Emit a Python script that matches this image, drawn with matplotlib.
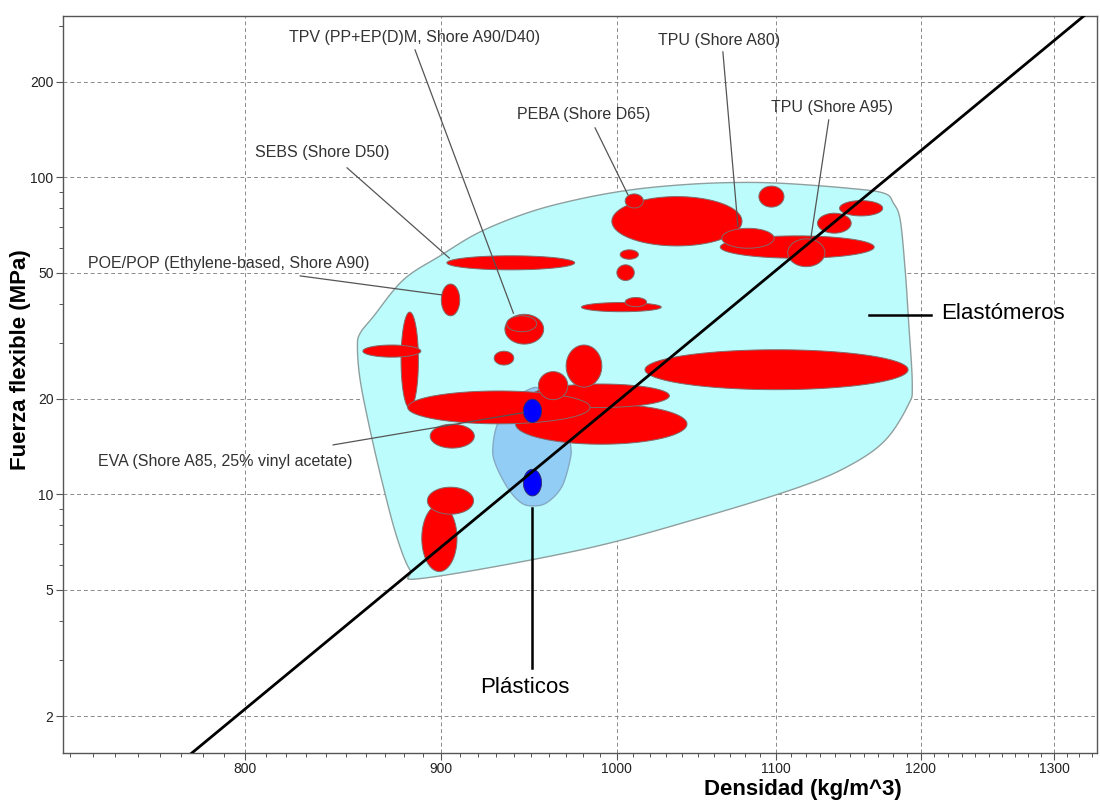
import numpy as np
import matplotlib
matplotlib.use("Agg")
import matplotlib.pyplot as plt
from matplotlib.ticker import FixedLocator, FixedFormatter, NullFormatter

plt.rcParams['font.family'] = ['Liberation Sans', 'DejaVu Sans']

# ---------------- data ----------------
# Red bubbles (elastomers): density range (kg/m^3) and flexural strength range (MPa), in drawing order
red_dens_lo = [889.5, 892.5, 894.0, 878.5, 858.6, 900.0, 935.0, 936.0, 929.0, 903.0,
               941.0, 950.0, 882.0, 954.0, 970.0, 1017.0, 997.0, 1005.0, 1002.0, 1000.0,
               979.0, 1005.0, 1064.0, 1065.0, 1108.0, 1089.0, 1128.0, 1143.0]
red_dens_hi = [908.5, 917.6, 918.0, 887.7, 889.0, 910.0, 957.0, 953.0, 940.0, 975.0,
               1043.0, 1032.0, 984.0, 971.0, 991.0, 1191.0, 1078.0, 1016.0, 1013.0, 1010.5,
               1027.0, 1018.0, 1167.0, 1099.0, 1133.0, 1105.5, 1151.0, 1173.0]
red_str_lo = [5.71, 8.66, 14.0, 18.7, 27.1, 36.6, 29.8, 32.6, 25.6, 51.1,
              14.4, 18.8, 16.7, 19.9, 21.8, 21.4, 60.8, 80.1, 55.2, 47.3,
              37.7, 39.1, 55.6, 59.8, 52.3, 80.6, 66.7, 75.6]
red_str_hi = [9.27, 10.54, 16.65, 37.6, 29.6, 46.1, 37.0, 36.6, 28.3, 56.6,
              19.3, 22.3, 21.2, 24.4, 29.6, 28.6, 87.0, 88.7, 59.1, 53.0,
              40.3, 41.8, 65.4, 69.1, 64.0, 93.9, 77.1, 84.5]

# Blue bubbles (plastics)
blue_dens_lo = [945.4, 945.4]
blue_dens_hi = [955.8, 955.8]
blue_str_lo = [16.85, 9.89]
blue_str_hi = [19.97, 12.0]

# Envelopes
elast_dens = [855.8, 857.2, 864.0, 879.7, 899.3, 921.2, 949.3, 978.2, 1008.1, 1038.8,
              1070.0, 1102.6, 1148.4, 1173.8, 1180.6, 1185.4, 1188.9, 1191.3, 1194.0, 1191.1,
              1175.0, 1150.6, 1116.0, 1051.1, 978.2, 890.4, 883.2, 876.2, 869.2, 862.3, 857.2]
elast_str = [29.26, 32.25, 36.38, 47.52, 56.56, 67.33, 77.84, 85.56, 91.3, 94.7,
             96.3, 95.9, 92.5, 89.2, 82.9, 73.4, 51.1, 35.5, 22.15, 19.16,
             14.86, 12.39, 10.56, 8.43, 6.68, 5.44, 5.78, 7.36, 10.58, 15.98, 22.97]
plast_dens = [950.3, 939.6, 931.1, 928.3, 929.5, 936.2, 943.5, 950.3, 958.8, 967.5,
              972.3, 972.7, 970.4, 962.4, 955.0]
plast_str = [21.63, 19.87, 16.81, 14.12, 12.57, 10.56, 9.47, 9.20, 9.42, 10.58,
             12.85, 14.15, 16.37, 19.44, 21.37]

# Selection guideline
line_dens = [770.0, 1330.0]
line_str = [1.436, 339.3]

# Annotations
ann_text = ["TPV (PP+EP(D)M, Shore A90/D40)", "TPU (Shore A80)", "PEBA (Shore D65)",
            "TPU (Shore A95)", "SEBS (Shore D50)", "POE/POP (Ethylene-based, Shore A90)",
            "EVA (Shore A85, 25% vinyl acetate)"]
ann_x = [885.9, 1063.0, 980.0, 1137.7, 837.8, 792.3, 790.5]
ann_y = [275.5, 269.5, 157.4, 165.6, 119.5, 53.35, 12.66]
lead_x0 = [885.9, 1065.7, 987.0, 1135.6, 850.5, 826.9, 843.4]
lead_y0 = [252.5, 248.9, 143.3, 151.8, 107.2, 48.9, 14.33]
lead_x1 = [939.8, 1075.4, 1006.7, 1123.4, 904.3, 900.2, 945.4]
lead_y1 = [37.3, 69.96, 88.1, 64.0, 55.7, 42.6, 18.11]

group_text = ["Elastómeros", "Plásticos"]
group_x = [1214.6, 946.5]
group_y = [37.1, 2.453]
group_lead_x0 = [1163.1, 950.4]
group_lead_x1 = [1207.3, 950.4]
group_lead_y0 = [36.8, 9.07]
group_lead_y1 = [36.8, 2.836]

xticks = [800, 900, 1000, 1100, 1200, 1300]
yticks = [2, 5, 10, 20, 50, 100, 200]
ytick_labels = ["2", "5", "10", "20", "50", "100", "200"]


# ---------------- helpers ----------------
def log_ellipse(ax, xlo, xhi, ylo, yhi, **kw):
    t = np.linspace(0, 2 * np.pi, 160)
    cx = (np.log10(xlo) + np.log10(xhi)) / 2
    rx = (np.log10(xhi) - np.log10(xlo)) / 2
    cy = (np.log10(ylo) + np.log10(yhi)) / 2
    ry = (np.log10(yhi) - np.log10(ylo)) / 2
    ax.fill(10 ** (cx + rx * np.cos(t)), 10 ** (cy + ry * np.sin(t)), **kw)


def smooth_closed(xs, ys, n=10):
    # Catmull-Rom through the given points, in log space
    lx = np.log10(np.asarray(xs, float))
    ly = np.log10(np.asarray(ys, float))
    m = len(lx)
    ox, oy = [], []
    for i in range(m):
        p0 = np.array([lx[i - 1], ly[i - 1]])
        p1 = np.array([lx[i], ly[i]])
        p2 = np.array([lx[(i + 1) % m], ly[(i + 1) % m]])
        p3 = np.array([lx[(i + 2) % m], ly[(i + 2) % m]])
        for s in np.linspace(0, 1, n, endpoint=False):
            s2, s3 = s * s, s * s * s
            p = 0.5 * ((2 * p1) + (-p0 + p2) * s + (2 * p0 - 5 * p1 + 4 * p2 - p3) * s2
                       + (-p0 + 3 * p1 - 3 * p2 + p3) * s3)
            ox.append(p[0]); oy.append(p[1])
    return 10 ** np.array(ox), 10 ** np.array(oy)


# ---------------- figure ----------------
fig = plt.figure(figsize=(11, 8.01), dpi=100)
ax = fig.add_axes([63.3 / 1100, 1 - 752.7 / 801, (1097 - 63.3) / 1100, (752.7 - 16) / 801])
ax.set_xscale('log')
ax.set_yscale('log')
ax.set_xlim(717.3, 1334)
ax.set_ylim(1.532, 323)

ex, ey = smooth_closed(elast_dens, elast_str)
ax.fill(ex, ey, facecolor='#bdfcfc', edgecolor='#8f9f9f', lw=1.0, zorder=1)
px, py = smooth_closed(plast_dens, plast_str)
ax.fill(px, py, facecolor='#92cdf6', edgecolor='#86a9c4', lw=1.0, zorder=2)

for a, b, c, d in zip(red_dens_lo, red_dens_hi, red_str_lo, red_str_hi):
    log_ellipse(ax, a, b, c, d, facecolor='#ff0000', edgecolor='#806a6a', lw=0.7, zorder=3)
for a, b, c, d in zip(blue_dens_lo, blue_dens_hi, blue_str_lo, blue_str_hi):
    log_ellipse(ax, a, b, c, d, facecolor='#0000ff', edgecolor='#303060', lw=0.6, zorder=4)

ax.plot(line_dens, line_str, color='black', lw=2.0, zorder=6, solid_capstyle='butt')

for t, x, y, x0, y0, x1, y1 in zip(ann_text, ann_x, ann_y, lead_x0, lead_y0, lead_x1, lead_y1):
    ax.plot([x0, x1], [y0, y1], color='#555555', lw=0.9, zorder=7)
    ax.text(x, y, t, ha='center', va='center', fontsize=11.5, color='#333333', zorder=8)

for x0, x1, y0, y1 in zip(group_lead_x0, group_lead_x1, group_lead_y0, group_lead_y1):
    ax.plot([x0, x1], [y0, y1], color='black', lw=1.8, zorder=7)
ax.text(group_x[0], group_y[0], group_text[0], ha='left', va='center', fontsize=16, color='black')
ax.text(group_x[1], group_y[1], group_text[1], ha='center', va='center', fontsize=16, color='black')

# axes styling
ax.xaxis.set_major_locator(FixedLocator(xticks))
ax.xaxis.set_major_formatter(FixedFormatter([str(v) for v in xticks]))
ax.xaxis.set_minor_locator(FixedLocator(np.arange(720, 1340, 10)))
ax.xaxis.set_minor_formatter(NullFormatter())
ax.yaxis.set_major_locator(FixedLocator(yticks))
ax.yaxis.set_major_formatter(FixedFormatter(ytick_labels))
ymin = [m * 10 ** e for e in (0, 1, 2) for m in (3, 4, 6, 7, 8, 9)] + [300]
ax.yaxis.set_minor_locator(FixedLocator(ymin))
ax.yaxis.set_minor_formatter(NullFormatter())
ax.tick_params(which='major', direction='out', length=5, width=0.8, color='#555555',
               labelsize=10, labelcolor='#222222', pad=2)
ax.tick_params(which='minor', direction='out', length=3, width=0.7, color='#555555')
ax.grid(which='major', linestyle=(0, (4, 3)), color='#8a8a8a', lw=0.7)
ax.set_axisbelow(True)
for s in ax.spines.values():
    s.set_color('#555555')
    s.set_linewidth(1.0)

ax.set_xlabel('Densidad (kg/m^3)', fontsize=16, fontweight='bold')
ax.xaxis.set_label_coords((803 - 63.3) / (1097 - 63.3), -(789 - 752.7) / (752.7 - 16))
ax.xaxis.label.set_va('center')
ax.set_ylabel('Fuerza flexible (MPa)', fontsize=16, fontweight='bold')
ax.yaxis.set_label_coords(-(63.3 - 21) / (1097 - 63.3), (752.7 - 360) / (752.7 - 16))
ax.yaxis.label.set_va('center')

fig.savefig('out.png', dpi=100)
